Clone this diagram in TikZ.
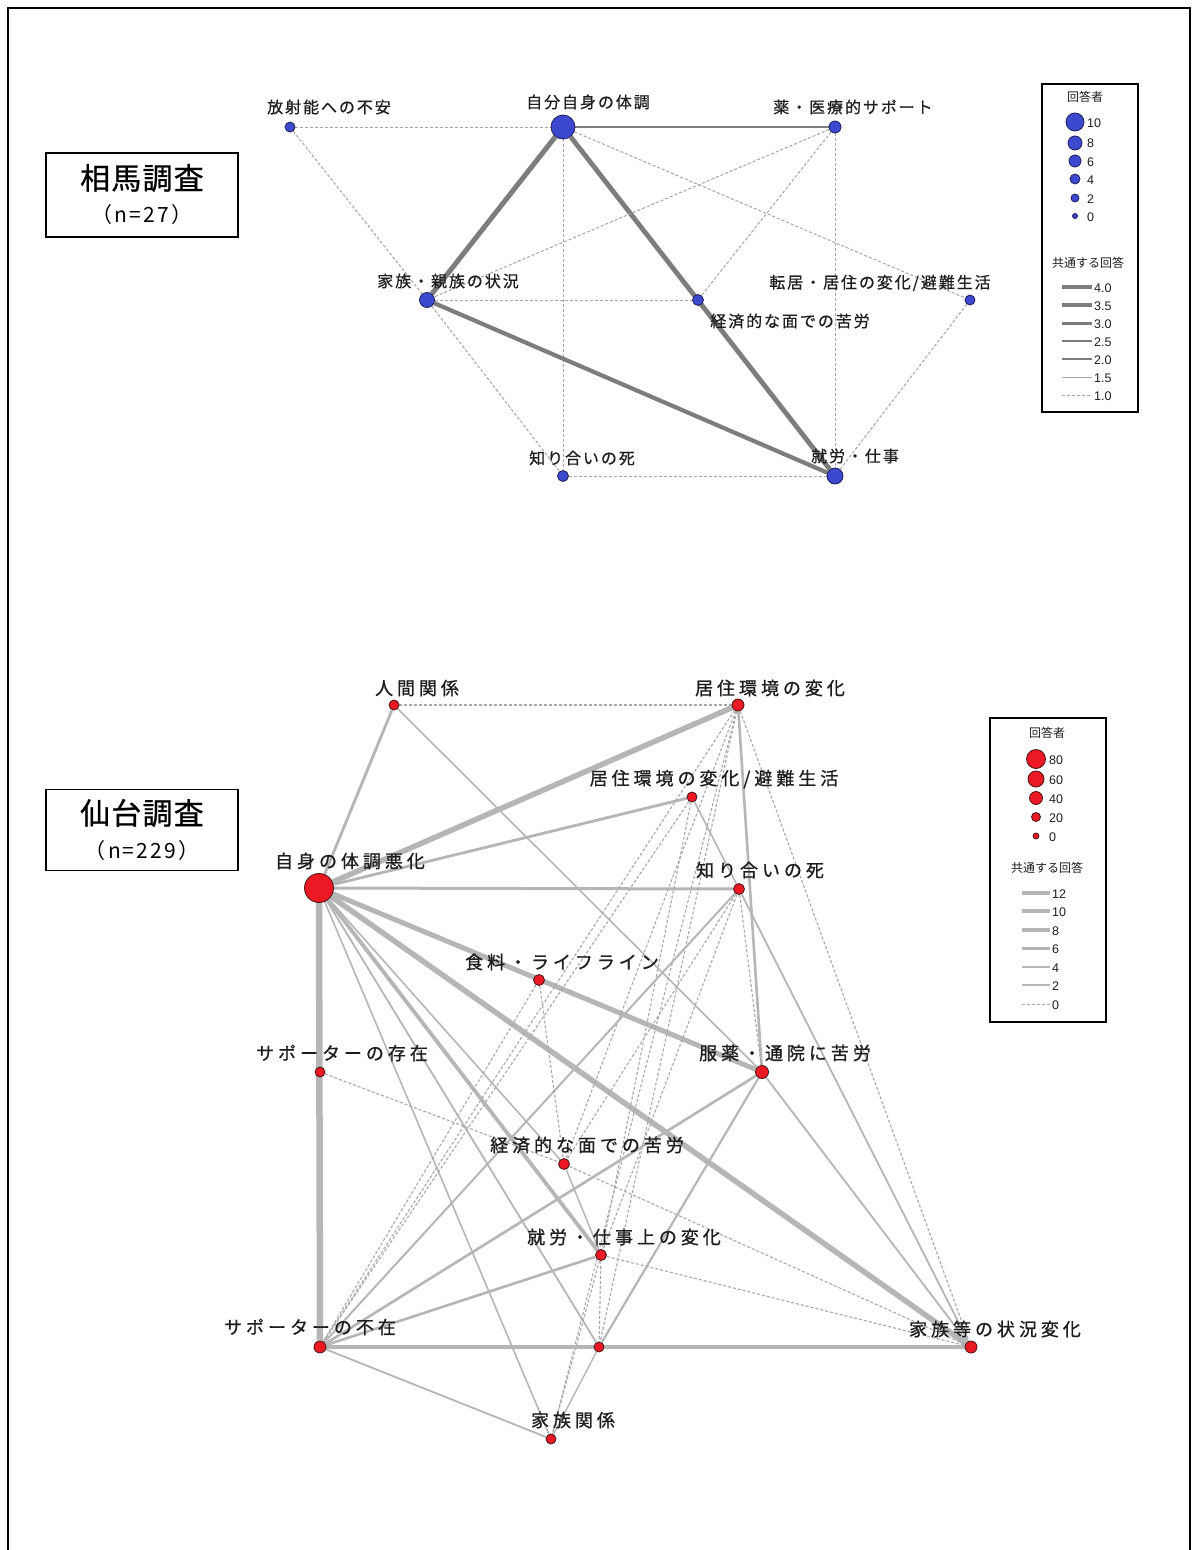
\documentclass[tikz,border=0pt]{standalone}
\usepackage{fontspec}
\setmainfont{Noto Sans CJK JP}
\newfontfamily\jpl[LetterSpace=12,FakeBold=0.6]{Noto Sans CJK JP}
\newfontfamily\jpw[LetterSpace=22,FakeBold=0.9]{Noto Sans CJK JP}
\newfontfamily\jpn{Noto Sans CJK JP}
\newfontfamily\jpnum[LetterSpace=10]{Noto Sans CJK JP}
\newfontfamily\jpt[FakeBold=0.8,LetterSpace=4]{Noto Sans CJK JP}
\newfontfamily\arl{Liberation Sans}
\usetikzlibrary{backgrounds}
\definecolor{topedge}{RGB}{125,125,125}
\definecolor{topdash}{RGB}{165,165,165}
\definecolor{botedge}{RGB}{182,182,182}
\definecolor{botdash}{RGB}{168,168,168}
\definecolor{bluefill}{RGB}{60,72,205}
\definecolor{blueline}{RGB}{30,30,90}
\definecolor{redfill}{RGB}{235,25,35}
\definecolor{redline}{RGB}{70,20,20}
\definecolor{txt}{RGB}{30,30,30}
\tikzset{
 bnode/.style={circle, draw=blueline, fill=bluefill, line width=0.8pt, inner sep=0pt},
 rnode/.style={circle, draw=redline, fill=redfill, line width=0.8pt, inner sep=0pt},
 tlab/.style={font=\jpl\fontsize{16}{18}\selectfont, text=txt, inner sep=0pt},
 blab/.style={font=\jpw\fontsize{18}{20}\selectfont, text=txt, inner sep=0pt},
 tedge/.style={draw=topedge},
 tdash/.style={draw=topdash, line width=1pt, dash pattern=on 3pt off 2pt},
 bedge/.style={draw=botedge},
 bdash/.style={draw=botdash, line width=1.1pt, dash pattern=on 3pt off 2pt},
 lgbox/.style={draw=black, line width=1.8pt, inner sep=0pt},
 legtxt/.style={font=\arl\fontsize{12.5}{14}\selectfont, text=txt, anchor=west, inner sep=0pt},
 legtitle/.style={font=\jpn\fontsize{12}{14}\selectfont, text=txt, inner sep=0pt},
 titlebox/.style={draw=black, line width=1.2pt, inner sep=0pt, minimum width=192pt, minimum height=84pt},
}
\begin{document}
\begin{tikzpicture}[x=1pt,y=-1pt]
\useasboundingbox (0,0) rectangle (1192,1550);
\begin{scope}[on background layer]
\fill[white] (0,0) rectangle (1192,1550);
\end{scope}
\draw[line width=1.5pt] (8,1552) -- (8,8) -- (1190,8) -- (1190,1552);

% ---------- title boxes ----------
\node[titlebox] (t1) at (142,195) {};
\node[font=\jpt\fontsize{30}{32}\selectfont, inner sep=0pt] (t1a) at (142,178) {相馬調査};
\node[font=\jpnum\fontsize{21}{23}\selectfont, inner sep=0pt] (t1b) at (142,215) {（n=27）};
\node[titlebox, minimum height=81pt] (t2) at (142,830) {};
\node[font=\jpt\fontsize{30}{32}\selectfont, inner sep=0pt] (t2a) at (142,813) {仙台調査};
\node[font=\jpnum\fontsize{21}{23}\selectfont, inner sep=0pt] (t2b) at (142,851) {（n=229）};

% ---------- Soma network ----------
\node[bnode, minimum size=10pt] (a) at (290,127) {};
\node[bnode, minimum size=24pt] (b) at (563,127) {};
\node[bnode, minimum size=12pt] (c) at (835,127) {};
\node[bnode, minimum size=15pt] (d) at (427,300) {};
\node[bnode, minimum size=11pt] (e) at (698,300) {};
\node[bnode, minimum size=10pt] (f) at (970,300) {};
\node[bnode, minimum size=11pt] (g) at (563,476) {};
\node[bnode, minimum size=16pt] (h) at (835,476) {};
\begin{scope}[on background layer]
\draw[tdash] (a) -- (b);
\draw[tdash] (a) -- (d);
\draw[tedge, line width=2pt] (b) -- (c);
\draw[tedge, line width=5pt] (b) -- (d);
\draw[tedge, line width=4.8pt] (b) -- (h);
\draw[tdash] (b) -- (g);
\draw[tdash] (b) -- (f);
\draw[tdash] (c) -- (d);
\draw[tdash] (c) -- (e);
\draw[tdash] (c) -- (h);
\draw[tdash] (d) -- (e);
\draw[tedge, line width=4.2pt] (d) -- (h);
\draw[tdash] (d) -- (g);
\draw[tdash] (g) -- (h);
\draw[tdash] (f) -- (h);
\end{scope}
\node[tlab] (la) at (329,107) {放射能への不安};
\node[tlab] (lb) at (588,102) {自分自身の体調};
\node[tlab] (lc) at (853,107) {薬・医療的サポート};
\node[tlab] (ld) at (448,281) {家族・親族の状況};
\node[tlab] (lf) at (880,283) {転居・居住の変化/避難生活};
\node[tlab] (le) at (790,321) {経済的な面での苦労};
\node[tlab] (lg) at (582,458) {知り合いの死};
\node[tlab] (lh) at (855,456) {就労・仕事};

% ---------- Soma legend ----------
\node[lgbox, minimum width=96pt, minimum height=328pt] (lg1) at (1090,248) {};
\node[legtitle] (lg1t) at (1085,97) {回答者};
\node[bnode, minimum size=18pt] (lc1) at (1075,122) {};
\node[bnode, minimum size=14pt] (lc2) at (1075,143) {};
\node[bnode, minimum size=12pt] (lc3) at (1075,161) {};
\node[bnode, minimum size=10pt] (lc4) at (1075,179) {};
\node[bnode, minimum size=8pt] (lc5) at (1075,198) {};
\node[bnode, minimum size=5pt] (lc6) at (1075,216) {};
\node[legtxt] at (1087,123) {10};
\node[legtxt] at (1087,143) {8};
\node[legtxt] at (1087,162) {6};
\node[legtxt] at (1087,180) {4};
\node[legtxt] at (1087,199) {2};
\node[legtxt] at (1087,217) {0};
\node[legtitle] (lg1u) at (1088,263) {共通する回答};
\draw[tedge, line width=4pt] (1062,287) -- (1092,287);
\draw[tedge, line width=3.5pt] (1062,305) -- (1092,305);
\draw[tedge, line width=3pt] (1062,323) -- (1092,323);
\draw[tedge, line width=2.5pt] (1062,341) -- (1092,341);
\draw[tedge, line width=1.8pt] (1062,359) -- (1092,359);
\draw[topdash, line width=1pt] (1062,377) -- (1092,377);
\draw[tdash] (1062,395) -- (1092,395);
\node[legtxt] at (1094,288) {4.0};
\node[legtxt] at (1094,306) {3.5};
\node[legtxt] at (1094,324) {3.0};
\node[legtxt] at (1094,342) {2.5};
\node[legtxt] at (1094,360) {2.0};
\node[legtxt] at (1094,378) {1.5};
\node[legtxt] at (1094,396) {1.0};

% ---------- Sendai network ----------
\node[rnode, minimum size=10pt] (A) at (394,705) {};
\node[rnode, minimum size=12pt] (B) at (738,705) {};
\node[rnode, minimum size=10pt] (C) at (692,797) {};
\node[rnode, minimum size=29pt] (D) at (319,888) {};
\node[rnode, minimum size=11pt] (E) at (739,889) {};
\node[rnode, minimum size=11pt] (F) at (539,980) {};
\node[rnode, minimum size=10pt] (G) at (320,1072) {};
\node[rnode, minimum size=13pt] (H) at (762,1072) {};
\node[rnode, minimum size=11pt] (I) at (564,1164) {};
\node[rnode, minimum size=11pt] (J) at (601,1255) {};
\node[rnode, minimum size=12pt] (K) at (320,1347) {};
\node[rnode, minimum size=10pt] (L) at (599,1347) {};
\node[rnode, minimum size=12pt] (M) at (971,1347) {};
\node[rnode, minimum size=10pt] (N) at (551,1439) {};
\begin{scope}[on background layer]
\draw[bedge, line width=6.5pt] (D) -- (K);
\draw[bedge, line width=5.5pt] (D) -- (B);
\draw[bedge, line width=5.5pt] (D) -- (M);
\draw[bedge, line width=5pt] (D) -- (H);
\draw[bedge, line width=3.8pt] (D) -- (J);
\draw[bedge, line width=3pt] (D) -- (E);
\draw[bedge, line width=2.8pt] (D) -- (C);
\draw[bedge, line width=2.8pt] (D) -- (A);
\draw[bedge, line width=1.6pt] (D) -- (I);
\draw[bedge, line width=1.8pt] (D) -- (L);
\draw[bedge, line width=1.6pt] (D) -- (N);
\draw[bdash] (A) -- (B);
\draw[bedge, line width=1.6pt] (A) -- (H);
\draw[bedge, line width=2.6pt] (B) -- (H);
\draw[bdash] (B) -- (M);
\draw[bdash] (B) -- (K);
\draw[bdash] (B) -- (I);
\draw[bdash] (B) -- (L);
\draw[bdash] (B) -- (N);
\draw[bdash] (C) -- (K);
\draw[bedge, line width=1.6pt] (C) -- (E);
\draw[bdash] (C) -- (J);
\draw[bdash] (E) -- (H);
\draw[bedge, line width=1.8pt] (E) -- (M);
\draw[bdash] (E) -- (I);
\draw[bdash] (E) -- (J);
\draw[bedge, line width=2pt] (E) -- (K);
\draw[bdash] (F) -- (I);
\draw[bdash] (F) -- (K);
\draw[bdash] (G) -- (I);
\draw[bdash] (I) -- (M);
\draw[bedge, line width=1.5pt] (I) -- (J);
\draw[bedge, line width=2.6pt] (H) -- (K);
\draw[bedge, line width=2.2pt] (H) -- (L);
\draw[bedge, line width=1.8pt] (H) -- (M);
\draw[bdash] (J) -- (M);
\draw[bdash] (J) -- (L);
\draw[bdash] (J) -- (N);
\draw[bedge, line width=1.4pt] (L) -- (N);
\draw[bedge, line width=1.8pt] (K) -- (N);
\draw[bedge, line width=2.6pt] (K) -- (J);
\draw[bedge, line width=3.2pt] (K) -- (M);
\end{scope}
\node[blab] (lA) at (417,688) {人間関係};
\node[blab] (lB) at (770,688) {居住環境の変化};
\node[blab] (lC) at (714,779) {居住環境の変化/避難生活};
\node[blab] (lD) at (350,861) {自身の体調悪化};
\node[blab] (lE) at (760,870) {知り合いの死};
\node[blab] (lF) at (562,962) {食料・ライフライン};
\node[blab] (lG) at (342,1053) {サポーターの存在};
\node[blab] (lH) at (785,1053) {服薬・通院に苦労};
\node[blab] (lI) at (587,1145) {経済的な面での苦労};
\node[blab] (lJ) at (624,1237) {就労・仕事上の変化};
\node[blab] (lK) at (310,1327) {サポーターの不在};
\node[blab] (lM) at (995,1329) {家族等の状況変化};
\node[blab] (lN) at (573,1420) {家族関係};

% ---------- Sendai legend ----------
\node[lgbox, minimum width=116pt, minimum height=304pt] (lg2) at (1048,870) {};
\node[legtitle] (lg2t) at (1047,733) {回答者};
\node[rnode, minimum size=19pt] (rc1) at (1036,759) {};
\node[rnode, minimum size=16pt] (rc2) at (1036,779) {};
\node[rnode, minimum size=13pt] (rc3) at (1036,798) {};
\node[rnode, minimum size=9pt] (rc4) at (1036,817) {};
\node[rnode, minimum size=6pt] (rc5) at (1036,836) {};
\node[legtxt] at (1049,760) {80};
\node[legtxt] at (1049,780) {60};
\node[legtxt] at (1049,799) {40};
\node[legtxt] at (1049,818) {20};
\node[legtxt] at (1049,837) {0};
\node[legtitle] (lg2u) at (1047,868) {共通する回答};
\draw[bedge, line width=4.5pt] (1022,893) -- (1050,893);
\draw[bedge, line width=4pt] (1022,911) -- (1050,911);
\draw[bedge, line width=3.5pt] (1022,930) -- (1050,930);
\draw[bedge, line width=3pt] (1022,948) -- (1050,948);
\draw[bedge, line width=2pt] (1022,967) -- (1050,967);
\draw[bedge, line width=1.3pt] (1022,985) -- (1050,985);
\draw[bdash, line width=0.8pt] (1022,1004) -- (1050,1004);
\node[legtxt] at (1052,894) {12};
\node[legtxt] at (1052,912) {10};
\node[legtxt] at (1052,931) {8};
\node[legtxt] at (1052,949) {6};
\node[legtxt] at (1052,968) {4};
\node[legtxt] at (1052,986) {2};
\node[legtxt] at (1052,1005) {0};
\end{tikzpicture}
\end{document}
